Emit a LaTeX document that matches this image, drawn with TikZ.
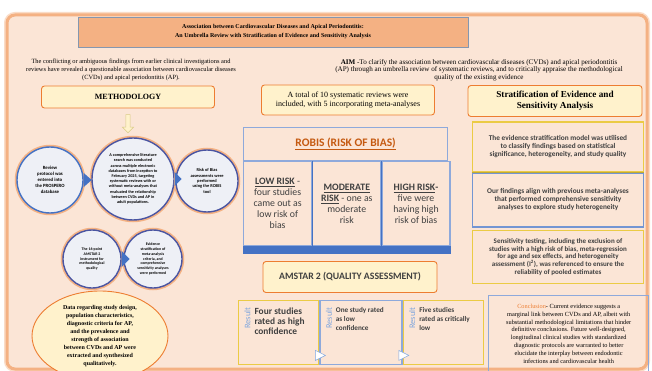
\documentclass[tikz,border=0pt]{standalone}
\usepackage{fontspec}
\setmainfont{Liberation Serif}
\newfontfamily\calib{Carlito}
\usetikzlibrary{positioning,shapes.geometric,shapes.arrows}
\hyphenpenalty=10000
\exhyphenpenalty=10000

\definecolor{peach}{HTML}{FBE5D6}
\definecolor{frameor}{HTML}{F4B183}
\definecolor{salmon}{HTML}{F4B183}
\definecolor{paleyel}{HTML}{FFF2CC}
\definecolor{boxor}{HTML}{ED7D31}
\definecolor{ylwb}{HTML}{EBCB45}
\definecolor{oliveb}{HTML}{BFA935}
\definecolor{blueb}{HTML}{4472C4}
\definecolor{navyb}{HTML}{4A55A2}
\definecolor{grayb}{HTML}{8EA9DB}
\definecolor{titleb}{HTML}{8497B0}
\definecolor{bubfill}{HTML}{EEF0F6}
\definecolor{robisor}{HTML}{C55A11}
\definecolor{textg}{HTML}{404040}
\definecolor{resblue}{HTML}{7FA6DE}

\begin{document}
\begin{tikzpicture}[x=1pt, y=-1pt,
    frame/.style={draw=frameor, line width=3pt, fill=peach, rounded corners=8pt,
        preaction={draw=frameor!45, line width=6pt, rounded corners=8pt}},
    titlebox/.style={draw=titleb, line width=0.6pt, fill=salmon, minimum width=390pt,
        minimum height=30pt, align=center, font=\bfseries\fontsize{6}{9}\selectfont},
    serif/.style={align=center, font=\fontsize{#1}{7.6}\selectfont},
    yelbox/.style={draw=boxor, line width=0.9pt, fill=paleyel, rounded corners=3pt, align=center},
    bubble/.style 2 args={circle, draw=navyb, line width=1.4pt, fill=bubfill, inner sep=0pt,
        align=center, font=\calib\bfseries\fontsize{#1}{#2}\selectfont,
        preaction={draw=frameor, line width=4.5pt}},
    pointer/.style={fill=blueb},
    cell/.style={draw=grayb, line width=1.2pt, minimum width=68pt, minimum height=84pt,
        align=center, inner sep=1pt, anchor=north west, text=textg,
        font=\calib\fontsize{9.8}{11}\selectfont},
    result/.style={line width=1.4pt, minimum width=80pt, minimum height=64pt, anchor=north west},
    restag/.style={rotate=90, anchor=north east, text=resblue, font=\calib\fontsize{8.5}{8.5}\selectfont},
    restext/.style={anchor=north west, align=left, text=textg},
    pointerw/.style={fill=white, draw=resblue, line width=0.5pt},
    panel/.style={line width=1.6pt, minimum width=171pt, align=center,
        text=textg, font=\calib\bfseries\fontsize{7.3}{8}\selectfont}
  ]
    % 1. Canvas and poster frame
    \useasboundingbox (0,0) rectangle (652,371);
    \fill[white] (0,0) rectangle (652,371);
    \draw[frame] (7,15) rectangle (647,369);

    % 2. Title and opening texts
    \node[titlebox] (title) at (273,32)
        {Association between Cardiovascular Diseases and Apical Periodontitis:\\
         An Umbrella Review with Stratification of Evidence and Sensitivity Analysis};
    \node[serif=6.4] (intro) at (131,70)
        {The conflicting or ambiguous findings from earlier clinical investigations and\\
         reviews have revealed a questionable association between cardiovascular diseases\\
         (CVDs) and apical periodontitis (AP).};
    \node[serif=7.1] (aim) at (479,70)
        {\textbf{AIM} -To clarify the association between cardiovascular diseases (CVDs) and apical periodontitis\\
         (AP) through an umbrella review of systematic reviews, and to critically appraise the methodological\\
         quality of the existing evidence};

    % 3. Methodology column
    \node[yelbox, minimum width=173pt, minimum height=22pt,
          font=\bfseries\fontsize{8}{9}\selectfont] (meth) at (128,97) {METHODOLOGY};
    \node[single arrow, draw=oliveb!60, fill=paleyel, line width=0.5pt, shape border rotate=270,
          minimum height=18pt, minimum width=11pt, single arrow head extend=2pt,
          inner sep=1pt, below=6pt of meth] (downarr) {};

    \node[bubble={4.8}{5.9}, draw=blueb, minimum size=66pt] (protocol) at (50,180)
        {Review\\protocol was\\entered into\\the PROSPERO\\database};
    \node[bubble={4.2}{5.2}, minimum size=82pt] (search) at (133,179)
        {A comprehensive literature\\search was conducted\\across multiple electronic\\databases from inception to\\
         February 2025, targeting\\systematic reviews with or\\without meta-analyses that\\
         evaluated the relationship\\between CVDs and AP in\\adult populations.};
    \node[bubble={4.4}{5.4}, minimum size=62pt] (robistool) at (207,181)
        {Risk of Bias\\assessments were\\performed\\using the ROBIS\\tool};
    \fill[pointer] ([yshift=7pt]protocol.east) -- ([xshift=8pt]protocol.east) -- ([yshift=-7pt]protocol.east) -- cycle;
    \fill[pointer] ([yshift=7pt]search.east) -- ([xshift=7pt]search.east) -- ([yshift=-7pt]search.east) -- cycle;

    \node[bubble={3.9}{4.8}, minimum size=58pt] (amstartool) at (92,259)
        {The 16-point\\AMSTAR 2\\instrument for\\methodological\\quality};
    \node[bubble={3.9}{4.8}, minimum size=58pt] (strattool) at (153,259)
        {Evidence\\stratification of\\meta-analysis\\criteria, and\\comprehensive\\sensitivity analyses\\were performed};
    \fill[pointer] ([yshift=8pt]amstartool.east) -- ([xshift=8pt]amstartool.east) -- ([yshift=-8pt]amstartool.east) -- cycle;

    \node[ellipse, draw=boxor, line width=0.9pt, fill=paleyel, minimum width=136pt, minimum height=90pt,
          inner sep=0pt, align=center, font=\bfseries\fontsize{6}{8}\selectfont] (extract) at (100,336)
        {Data regarding study design,\\population characteristics,\\diagnostic criteria for AP,\\
         and the prevalence and\\strength of association\\between CVDs and AP were\\
         extracted and synthesized\\qualitatively.};

    % 4. Middle column: ROBIS and AMSTAR 2
    \node[yelbox, minimum width=173pt, minimum height=30pt,
          font=\fontsize{8}{9.5}\selectfont] (total) at (348,100)
        {A total of 10 systematic reviews were\\included, with 5 incorporating meta-analyses};

    \node[draw=grayb, line width=1.2pt, minimum width=204pt, minimum height=33pt, anchor=north west,
          text=robisor, font=\calib\bfseries\fontsize{11.5}{12}\selectfont] (robhead) at (243,127)
        {\underline{ROBIS (RISK OF BIAS)}};
    \node[cell] (lowrisk) at (robhead.south west)
        {\textbf{\underline{LOW RISK}} -\\four studies\\came out as\\low risk of\\bias};
    \node[cell] (modrisk) at (lowrisk.north east)
        {\textbf{\underline{MODERATE}}\\\textbf{\underline{RISK}} - one as\\moderate\\risk};
    \node[cell] (highrisk) at (modrisk.north east)
        {\textbf{\underline{HIGH RISK}-}\\five were\\having high\\risk of bias};
    \draw[blueb, line width=1.2pt] (lowrisk.north east) -- (lowrisk.south east);
    \draw[blueb, line width=1.2pt] (modrisk.north east) -- (modrisk.south east);
    \fill[blueb] (lowrisk.south west) rectangle ([yshift=-8pt]highrisk.south east);

    \node[yelbox, minimum width=174pt, minimum height=31pt, text=textg,
          font=\calib\bfseries\fontsize{9.8}{10}\selectfont] (amstar) at (350,277)
        {AMSTAR 2 (QUALITY ASSESSMENT)};

    \node[result, draw=ylwb] (highconf) at (238,300) {};
    \node[result, draw=grayb, minimum width=82pt] (lowconf) at (highconf.north east) {};
    \node[result, draw=ylwb] (critlow) at (lowconf.north east) {};
    \foreach \r in {highconf, lowconf, critlow}
        \node[restag] at ([xshift=3pt, yshift=-4pt]\r.north west) {Result};
    \node[restext, font=\calib\bfseries\fontsize{9.4}{10.4}\selectfont]
        at ([xshift=13pt, yshift=-4pt]highconf.north west) {Four studies\\rated as high\\confidence};
    \node[restext, font=\calib\bfseries\fontsize{7.2}{9}\selectfont]
        at ([xshift=13pt, yshift=-4pt]lowconf.north west) {One study rated\\as low\\confidence};
    \node[restext, font=\calib\bfseries\fontsize{7.2}{9}\selectfont]
        at ([xshift=13pt, yshift=-4pt]critlow.north west) {Five studies\\rated as critically\\low};
    \filldraw[pointerw] ([xshift=-4pt, yshift=5pt]highconf.south east) -- ([xshift=-4pt, yshift=15pt]highconf.south east)
        -- ([xshift=6pt, yshift=10pt]highconf.south east) -- cycle;
    \filldraw[pointerw] ([xshift=-4pt, yshift=5pt]lowconf.south east) -- ([xshift=-4pt, yshift=15pt]lowconf.south east)
        -- ([xshift=6pt, yshift=10pt]lowconf.south east) -- cycle;

    % 5. Right column: stratification and sensitivity
    \node[yelbox, minimum width=174pt, minimum height=31pt,
          font=\bfseries\fontsize{9.2}{10.5}\selectfont] (strat) at (555,101)
        {Stratification of Evidence and\\Sensitivity Analysis};
    \node[panel, draw=ylwb, minimum height=50pt] (model) at (558,147)
        {The evidence stratification model was utilised\\to classify findings based on statistical\\
         significance, heterogeneity, and study quality};
    \node[panel, draw=blueb!75, minimum height=54pt] (align) at (558,200)
        {Our findings align with previous meta-analyses\\that performed comprehensive sensitivity\\
         analyses to explore study heterogeneity};
    \node[panel, draw=ylwb, minimum height=53pt, font=\calib\bfseries\fontsize{7}{7.8}\selectfont] (sens) at (558,257)
        {Sensitivity testing, including the exclusion of\\studies with a high risk of bias, meta-regression\\
         for age and sex effects, and heterogeneity\\assessment (I\textsuperscript{2}), was referenced to ensure the\\
         reliability of pooled estimates};
    \draw[oliveb, line width=0.6pt] (model.south west) -- (model.south east);

    \node[draw=grayb, line width=1.4pt, minimum width=160pt, minimum height=76pt, anchor=north west,
          align=center, font=\fontsize{6.3}{7.9}\selectfont] (concl) at (488,295)
        {\textcolor{boxor}{Conclusion}- Current evidence suggests a\\marginal link between CVDs and AP, albeit with\\
         substantial methodological limitations that hinder\\definitive conclusions. Future well-designed,\\
         longitudinal clinical studies with standardized\\diagnostic protocols are warranted to better\\
         elucidate the interplay between endodontic\\infections and cardiovascular health};
\end{tikzpicture}
\end{document}
